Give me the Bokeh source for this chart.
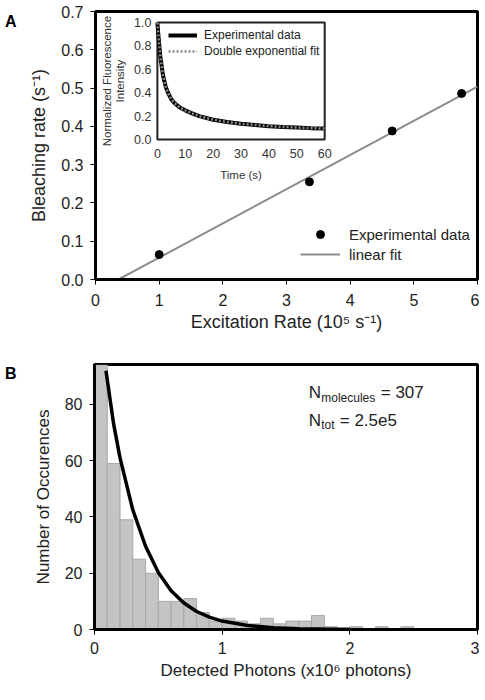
from bokeh.plotting import figure
from bokeh.models import Range1d, FixedTicker, Label, Legend, LegendItem, Div
from bokeh.layouts import column, row
from bokeh.embed import file_html
from bokeh.resources import INLINE
from bokeh.core.properties import value

FONT = "Liberation Sans"

# ---------------- Panel A data ----------------
excitation_rate = [1.0, 3.36, 4.66, 5.75]
bleaching_rate = [0.065, 0.255, 0.388, 0.486]
linfit_x = [0.36, 6.0]
linfit_y = [0.0, 0.504]
a_xticks = [0, 1, 2, 3, 4, 5, 6]
a_yticks = [0.0, 0.1, 0.2, 0.3, 0.4, 0.5, 0.6, 0.7]
a_ytick_labels = ["0.0", "0.1", "0.2", "0.3", "0.4", "0.5", "0.6", "0.7"]

# inset (normalized fluorescence decay)
inset_time = [0, 0.5, 1, 2, 3, 4, 5, 6, 8, 10, 12, 15, 20, 25, 30, 35, 40, 45, 50, 55, 60]
inset_exp = [1.0, 0.85, 0.72, 0.55, 0.45, 0.39, 0.345, 0.315, 0.275, 0.25, 0.228, 0.2, 0.17,
             0.15, 0.135, 0.125, 0.115, 0.108, 0.103, 0.098, 0.094]
inset_fit = [1.0, 0.85, 0.72, 0.55, 0.45, 0.39, 0.345, 0.315, 0.275, 0.25, 0.228, 0.2, 0.17,
             0.15, 0.135, 0.125, 0.115, 0.108, 0.103, 0.098, 0.094]
inset_xticks = [0, 10, 20, 30, 40, 50, 60]
inset_xtick_labels = ["0", "10", "20", "30", "40", "50", "60"]
inset_yticks = [0.0, 0.2, 0.4, 0.6, 0.8, 1.0]
inset_ytick_labels = ["0.0", "0.2", "0.4", "0.6", "0.8", "1.0"]

# ---------------- Panel B data ----------------
bin_width = 0.1
counts = [94, 59, 39, 25, 20, 10, 10, 11, 6, 3, 4, 3, 2, 4, 2, 3, 3, 5, 1, 0, 1, 0, 1, 0, 1]
fit_photons = [0.09, 0.15, 0.2, 0.3, 0.4, 0.5, 0.6, 0.7, 0.8, 0.9, 1.0, 1.2, 1.4, 1.6, 1.8, 2.0]
fit_counts = [92, 73, 61, 42.5, 29.6, 20.3, 13.8, 9.4, 6.4, 4.4, 3.0, 1.4, 0.65, 0.3, 0.14, 0.07]
b_xticks = [0, 1, 2, 3]
b_yticks = [0, 20, 40, 60, 80]


def style_axes(p, tick_size, label_size, x_std, x_lstd, y_std, y_lstd):
    for ax in p.axis:
        ax.axis_line_width = 3
        ax.axis_line_color = "black"
        ax.major_tick_out = 5
        ax.major_tick_in = 0
        ax.minor_tick_out = 0
        ax.minor_tick_in = 0
        ax.major_tick_line_width = 1
        ax.major_label_text_font = FONT
        ax.major_label_text_font_size = tick_size
        ax.major_label_text_color = "#222222"
        ax.axis_label_text_font = FONT
        ax.axis_label_text_font_size = label_size
        ax.axis_label_text_font_style = "normal"
        ax.axis_label_text_color = "#222222"
    p.xaxis.major_label_standoff = x_std
    p.xaxis.axis_label_standoff = x_lstd
    p.yaxis.major_label_standoff = y_std
    p.yaxis.axis_label_standoff = y_lstd
    p.grid.visible = False
    p.outline_line_color = "black"
    p.outline_line_width = 3
    p.outline_line_alpha = 1.0


def letter(txt, h):
    return Div(text=f'<div style="font-family:{FONT};font-size:16px;font-weight:bold;'
                    f'line-height:{h}px;text-align:center;color:black">{txt}</div>',
               width=16, height=h)


# ================= Panel A =================
pA = figure(width=453, height=338, x_range=Range1d(0, 6), y_range=Range1d(0, 0.7),
            output_backend="svg", toolbar_location=None,
            min_border_left=69, min_border_right=2, min_border_top=11, min_border_bottom=59)
pA.xaxis.ticker = FixedTicker(ticks=a_xticks)
pA.yaxis.ticker = FixedTicker(ticks=a_yticks)
pA.yaxis.major_label_overrides = {t: l for t, l in zip(a_yticks, a_ytick_labels)}
pA.xaxis.axis_label = "Excitation Rate (10\u2075 s\u207b\u00b9)"
pA.yaxis.axis_label = "Bleaching rate (s\u207b\u00b9)"
style_axes(pA, "16px", "18px", 9, 3, 7, 9)

r_fit = pA.line(linfit_x, linfit_y, line_color="#8c8c8c", line_width=2)
r_pts = pA.scatter(excitation_rate, bleaching_rate, size=8, fill_color="black", line_color="black")

legA = Legend(items=[LegendItem(label="Experimental data", renderers=[r_pts]),
                     LegendItem(label="linear fit", renderers=[r_fit])],
              location=(205, 15), glyph_width=40, glyph_height=20, label_height=20,
              label_standoff=9, spacing=0, padding=0, margin=0,
              border_line_color=None, background_fill_alpha=0,
              label_text_font=FONT, label_text_font_size="15px", label_text_color="#222222")
pA.add_layout(legA)

# ---- inset drawn in its own ranges ----
fl, fr, fb, ft = 0.162, 0.600, 0.522, 0.959
xs = (inset_xticks[-1] - inset_xticks[0]) / (fr - fl)
x0 = inset_xticks[0] - fl * xs
ys = (inset_yticks[-1] - inset_yticks[0]) / (ft - fb)
y0 = inset_yticks[0] - fb * ys
pA.extra_x_ranges = {"inset": Range1d(x0, x0 + xs)}
pA.extra_y_ranges = {"inset": Range1d(y0, y0 + ys)}
IN = dict(x_range_name="inset", y_range_name="inset")

pA.quad(left=inset_xticks[0], right=inset_xticks[-1], bottom=inset_yticks[0], top=inset_yticks[-1],
        fill_color="white", line_color="#222222", line_width=2, **IN)
r_iexp = pA.line(inset_time, inset_exp, line_color="black", line_width=4, **IN)
r_ifit = pA.line(inset_time, inset_fit, line_color="#8a8a8a", line_width=2.5, line_dash="2 2", **IN)

pA.text(x=[inset_xticks[0]] * len(inset_yticks), y=inset_yticks, text=inset_ytick_labels,
        x_offset=-6, text_align="right", text_baseline="middle",
        text_font=value(FONT), text_font_size="12.5px", text_color="#333333", **IN)
pA.text(x=inset_xticks, y=[inset_yticks[0]] * len(inset_xticks), text=inset_xtick_labels,
        y_offset=9, text_align="center", text_baseline="top",
        text_font=value(FONT), text_font_size="12.5px", text_color="#333333", **IN)
pA.add_layout(Label(x=(inset_xticks[0] + inset_xticks[-1]) / 2, y=inset_yticks[0], text="Time (s)",
                    y_offset=-35, text_align="center", text_baseline="middle",
                    text_font=FONT, text_font_size="11.5px", text_color="#333333", **IN))
pA.add_layout(Label(x=inset_xticks[0], y=(inset_yticks[0] + inset_yticks[-1]) / 2,
                    text="Normalized Fluorescence", x_offset=-50, angle=90, angle_units="deg",
                    text_align="center", text_baseline="middle",
                    text_font=FONT, text_font_size="11.5px", text_color="#333333", **IN))
pA.add_layout(Label(x=inset_xticks[0], y=(inset_yticks[0] + inset_yticks[-1]) / 2,
                    text="Intensity", x_offset=-37, angle=90, angle_units="deg",
                    text_align="center", text_baseline="middle",
                    text_font=FONT, text_font_size="11.5px", text_color="#333333", **IN))

legI = Legend(items=[LegendItem(label="Experimental data", renderers=[r_iexp]),
                     LegendItem(label="Double exponential fit", renderers=[r_ifit])],
              location=(73, 220), glyph_width=29, glyph_height=16, label_height=16,
              label_standoff=7, spacing=0, padding=0, margin=0,
              border_line_color=None, background_fill_alpha=0,
              label_text_font=FONT, label_text_font_size="12px", label_text_color="#222222")
pA.add_layout(legI)

# ================= Panel B =================
pB = figure(width=453, height=346, x_range=Range1d(0, 3), y_range=Range1d(0, 94.2),
            output_backend="svg", toolbar_location=None,
            min_border_left=68, min_border_right=2, min_border_top=26, min_border_bottom=55)
pB.xaxis.ticker = FixedTicker(ticks=b_xticks)
pB.yaxis.ticker = FixedTicker(ticks=b_yticks)
pB.xaxis.axis_label = "Detected Photons (x10\u2076 photons)"
pB.yaxis.axis_label = "Number of Occurences"
style_axes(pB, "16px", "17px", 7, 4, 7, 9)

lefts = [i * bin_width for i in range(len(counts))]
rights = [l + bin_width for l in lefts]
pB.quad(left=lefts, right=rights, bottom=0, top=counts,
        fill_color="#c4c4c4", line_color="#a8a8a8", line_width=1)
pB.line(fit_photons, fit_counts, line_color="black", line_width=3.5)

TX, TY1, TY2 = 1.678, 84.2, 74.3
row1 = [("N", 0, 0, "17px"), ("molecules", 12.5, -5, "12px"), ("= 307", 72, 0, "17px")]
row2 = [("N", 0, 0, "17px"), ("tot", 12.5, -5, "12px"), ("= 2.5e5", 31, 0, "17px")]
for ty, items in ((TY1, row1), (TY2, row2)):
    for txt, xo, yo, fs in items:
        pB.add_layout(Label(x=TX, y=ty, text=txt, x_offset=xo, y_offset=yo, text_baseline="alphabetic",
                            text_font=FONT, text_font_size=fs, text_color="#222222"))

layout = column(row(letter("A", 34), pA), row(letter("B", 62), pB))
open("out.html", "w").write(file_html(layout, INLINE))
